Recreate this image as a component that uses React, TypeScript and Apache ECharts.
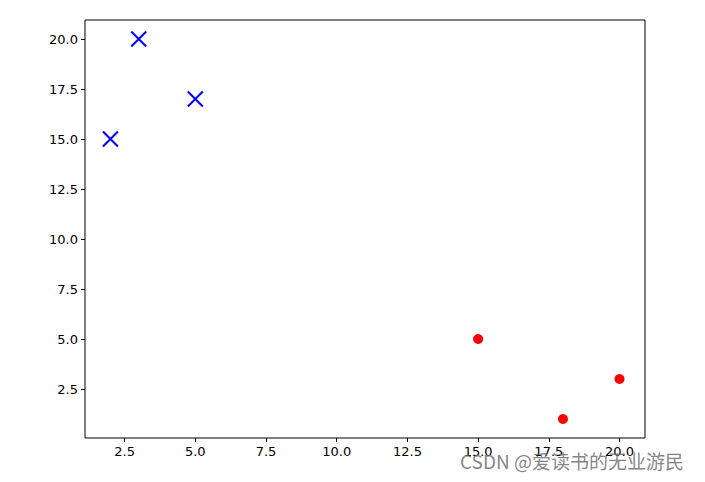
import React, { useEffect, useRef } from "react";
import * as echarts from "echarts";

const blueX = [2, 3, 5];
const blueY = [15, 20, 17];
const redX = [15, 18, 20];
const redY = [5, 1, 3];
const xTicks = [2.5, 5.0, 7.5, 10.0, 12.5, 15.0, 17.5, 20.0];
const yTicks = [2.5, 5.0, 7.5, 10.0, 12.5, 15.0, 17.5, 20.0];
const watermark = "CSDN @爱读书的无业游民";

export default function App() {
  const ref = useRef<HTMLDivElement>(null);
  useEffect(() => {
    const chart = echarts.init(ref.current!, null, { renderer: "svg" });
    const font = "DejaVu Sans";
    chart.setOption({
      animation: false,
      backgroundColor: "#ffffff",
      grid: {
        left: 85,
        right: 60,
        top: 20,
        bottom: 44,
        show: true,
        borderColor: "#000000",
        borderWidth: 1,
        backgroundColor: "transparent",
      },
      xAxis: {
        type: "value",
        min: 1.1,
        max: 20.9,
        splitLine: { show: false },
        axisLine: { show: false },
        axisTick: {
          show: true,
          length: 4,
          inside: false,
          customValues: xTicks,
          lineStyle: { color: "#000", width: 1 },
        },
        axisLabel: {
          customValues: xTicks,
          formatter: (v: number) => v.toFixed(1),
          color: "#000",
          fontFamily: font,
          fontSize: 13,
          margin: 7,
        },
      },
      yAxis: {
        type: "value",
        min: 0.05,
        max: 20.95,
        splitLine: { show: false },
        axisLine: { show: false },
        axisTick: {
          show: true,
          length: 4,
          inside: false,
          customValues: yTicks,
          lineStyle: { color: "#000", width: 1 },
        },
        axisLabel: {
          customValues: yTicks,
          formatter: (v: number) => v.toFixed(1),
          color: "#000",
          fontFamily: font,
          fontSize: 13,
          margin: 7,
        },
      },
      series: [
        {
          type: "scatter",
          data: blueX.map((x, i) => [x, blueY[i]]),
          symbol: "path://M0,0L10,10M10,0L0,10",
          symbolSize: 15,
          itemStyle: {
            color: "transparent",
            borderColor: "#0000ff",
            borderWidth: 2,
            opacity: 1,
          },
          z: 3,
        },
        {
          type: "scatter",
          data: redX.map((x, i) => [x, redY[i]]),
          symbol: "circle",
          symbolSize: 10,
          itemStyle: { color: "#ff0000", opacity: 1 },
          z: 3,
        },
      ],
      graphic: [
        {
          type: "text",
          left: 460,
          top: 451,
          style: {
            text: watermark,
            fill: "rgba(110,110,110,0.85)",
            fontSize: 19,
            fontFamily: "Noto Sans CJK SC",
          },
          z: 10,
        },
      ],
    });
    return () => chart.dispose();
  }, []);
  return <div ref={ref} style={{ width: 705, height: 482, position: "absolute", left: 0, top: 0 }} />;
}
